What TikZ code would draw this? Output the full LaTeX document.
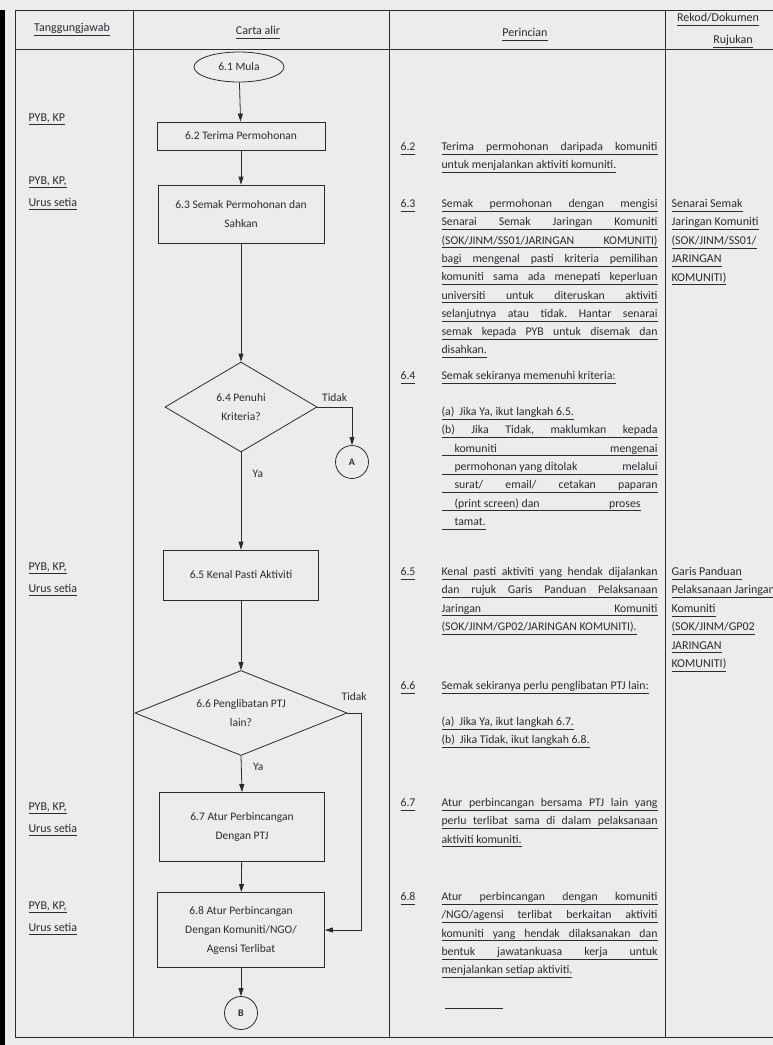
\documentclass[tikz,border=0pt]{standalone}
\usepackage{fontspec}
\setmainfont{Carlito}
\usepackage{xcolor}
\usepackage{tikz}
\usetikzlibrary{positioning}
\usetikzlibrary{arrows.meta, shapes.geometric, calc}
\definecolor{paper}{rgb}{0.92, 0.93, 0.93}
\definecolor{ink}{rgb}{0.17, 0.17, 0.19}
\frenchspacing
\newcommand{\flowfont}{\fontsize{11.5}{19}\selectfont}
\newcommand{\descfont}{\fontsize{11.8}{18.3}\selectfont}
\newcommand{\respfont}{\fontsize{12}{22}\selectfont}
\newcommand{\reffont}{\fontsize{12}{18.4}\selectfont}
\newcommand{\uln}[1]{\underline{\hbox{#1\vphantom{g}}}}
\newcommand{\jln}[2][216pt]{\underline{\hbox to #1{#2\vphantom{g}}}}
\tikzset{
  every node/.style={text=ink},
  process/.style={rectangle, draw=ink, line width=0.8pt, align=center, inner sep=2pt, font=\flowfont},
  terminal/.style={ellipse, draw=ink, line width=0.8pt, minimum width=90, minimum height=30, inner sep=1pt, font=\flowfont},
  decision/.style={diamond, draw=ink, line width=0.8pt, aspect=1.7, inner sep=1pt, align=center, font=\flowfont},
  offpage/.style={circle, draw=ink, line width=0.8pt, minimum size=33, inner sep=0pt, font=\fontsize{10}{12}\selectfont\bfseries},
  flow/.style={draw=ink, line width=0.8pt, -{Triangle[length=8pt, width=5pt]}},
  grid line/.style={draw=ink, line width=0.7pt},
  head/.style={anchor=base, font=\respfont},
  resp/.style={anchor=base west, align=left, font=\respfont},
  desc/.style={anchor=base west, align=left, font=\descfont},
  docref/.style={anchor=base west, align=left, font=\reffont},
  label/.style={font=\flowfont}
}
\begin{document}
\begin{tikzpicture}[x=1pt, y=-1pt]
        \useasboundingbox (0,0) rectangle (773,1045);
        \clip (0,0) rectangle (773,1045);
        \fill[paper] (0,0) rectangle (773,1045);
        \fill[black] (0,10) rectangle (5,1045);

        \draw[grid line] (15,10) -- (773,10);
        \draw[grid line] (15,49) -- (773,49);
        \draw[grid line] (15,1037) -- (773,1037);
        \draw[grid line] (15,10) -- (15,1037);
        \draw[grid line] (133,10) -- (133,1037);
        \draw[grid line] (389,10) -- (389,1037);
        \draw[grid line] (665,10) -- (665,1037);

        \node[head] at (72,31.5) {\uln{Tanggungjawab}};
        \node[head] at (258,34.5) {\uln{Carta alir}};
        \node[head] at (525,36.5) {\uln{Perincian}};
        \node[head] at (718,21.5) {\uln{Rekod/Dokumen}};
        \node[head] at (733,43.5) {\uln{Rujukan}};

        \node[resp] at (25,121) {\uln{PYB, KP}};
        \node[resp] at (25,206) {\uln{PYB, KP,}\\\uln{Urus setia}};
        \node[resp] at (25,592) {\uln{PYB, KP,}\\\uln{Urus setia}};
        \node[resp] at (25,832) {\uln{PYB, KP,}\\\uln{Urus setia}};
        \node[resp] at (25,931) {\uln{PYB, KP,}\\\uln{Urus setia}};

        \node[terminal] (mula) at (239,67) {6.1 Mula};
        \node[process, minimum width=168, minimum height=28] (terima) at (241,136) {6.2 Terima Permohonan};
        \node[process, minimum width=166, minimum height=58] (semak) at (241,214) {6.3 Semak Permohonan dan\\Sahkan};
        \node[decision, minimum width=152, minimum height=90] (penuhi) at (241,407) {6.4 Penuhi\\Kriteria?};
        \node[offpage] (A) at (352,462) {A};
        \node[process, minimum width=155, minimum height=50] (kenal) at (241,575) {6.5 Kenal Pasti Aktiviti};
        \node[decision, minimum width=212, minimum height=85] (ptj) at (241,713) {6.6 Penglibatan PTJ\\lain?};
        \node[process, minimum width=165, minimum height=69] (aturptj) at (242,827) {6.7 Atur Perbincangan\\Dengan PTJ};
        \node[process, minimum width=167, minimum height=75] (aturkom) at (241,930) {6.8 Atur Perbincangan\\Dengan Komuniti/NGO/\\Agensi Terlibat};
        \node[offpage] (B) at (241,1013) {B};
        \coordinate (tidakptj) at (361,713);

        \draw[flow] (mula) -- (terima);
        \draw[flow] (terima) -- (semak);
        \draw[flow] (semak) -- (penuhi);
        \draw[flow] (penuhi.east) -| node[label, pos=0.25, above=2pt] {Tidak} (A.north);
        \draw[flow] (penuhi.south) -- node[label, pos=0.22, right=8pt] {Ya} (kenal.north);
        \draw[flow] (kenal) -- (ptj.north);
        \draw[flow] (ptj.south) -- node[label, pos=0.3, right=8pt] {Ya} (aturptj.north);
        \draw[flow] (ptj.east) -- node[label, midway, above=9pt] {Tidak} (tidakptj) |- (aturkom.east);
        \draw[flow] (aturptj) -- (aturkom);
        \draw[flow] (aturkom) -- (B);

        \node[desc] at (397,150.5) {\uln{6.2}};
        \node[desc] at (438,168.8) {\jln{Terima permohonan daripada komuniti}\\
            \uln{untuk menjalankan aktiviti komuniti.}};
        \node[desc] at (397,207.5) {\uln{6.3}};
        \node[desc] at (438,353.9) {\jln{Semak permohonan dengan mengisi}\\
            \jln{Senarai Semak Jaringan Komuniti}\\
            \jln{(SOK/JINM/SS01/JARINGAN KOMUNITI)}\\
            \jln{bagi mengenal pasti kriteria pemilihan}\\
            \jln{komuniti sama ada menepati keperluan}\\
            \jln{universiti untuk diteruskan aktiviti}\\
            \jln{selanjutnya atau tidak. Hantar senarai}\\
            \jln{semak kepada PYB untuk disemak dan}\\
            \uln{disahkan.}};
        \node[desc] at (397,379.5) {\uln{6.4}};
        \node[desc] at (438,379.5) {\uln{Semak sekiranya memenuhi kriteria:}};
        \node[desc] at (438,525.3) {\uln{(a)\hspace{5pt}Jika Ya, ikut langkah 6.5.}\\
            \jln{(b) Jika Tidak, maklumkan kepada}\\
            \jln{\hspace*{13pt}komuniti\hfill mengenai}\\
            \jln{\hspace*{13pt}permohonan yang ditolak\hfill melalui}\\
            \jln{\hspace*{13pt}surat/ email/ cetakan paparan}\\
            \jln[199pt]{\hspace*{13pt}(print screen) dan\hfill proses}\\
            \uln{\hspace*{13pt}tamat.}};
        \node[desc] at (397,575.5) {\uln{6.5}};
        \node[desc] at (438,630.4) {\jln{Kenal pasti aktiviti yang hendak dijalankan}\\
            \jln{dan rujuk Garis Panduan Pelaksanaan}\\
            \jln{Jaringan\hfill Komuniti}\\
            \uln{(SOK/JINM/GP02/JARINGAN KOMUNITI).}};
        \node[desc] at (397,689.5) {\uln{6.6}};
        \node[desc] at (438,689.5) {\uln{Semak sekiranya perlu penglibatan PTJ lain:}};
        \node[desc] at (438,743.8) {\uln{(a)\hspace{5pt}Jika Ya, ikut langkah 6.7.}\\
            \uln{(b)\hspace{5pt}Jika Tidak, ikut langkah 6.8.}};
        \node[desc] at (397,806.5) {\uln{6.7}};
        \node[desc] at (438,843.1) {\jln{Atur perbincangan bersama PTJ lain yang}\\
            \jln{perlu terlibat sama di dalam pelaksanaan}\\
            \uln{aktiviti komuniti.}};
        \node[desc] at (397,900.5) {\uln{6.8}};
        \node[desc] at (438,973.7) {\jln{Atur perbincangan dengan komuniti}\\
            \jln{/NGO/agensi terlibat berkaitan aktiviti}\\
            \jln{komuniti yang hendak dilaksanakan dan}\\
            \jln{bentuk jawatankuasa kerja untuk}\\
            \uln{menjalankan setiap aktiviti.}};
        \draw[ink, line width=0.6pt] (445,1008) -- (503,1008);

        \node[docref] at (668,281.1) {\uln{Senarai Semak}\\\uln{Jaringan Komuniti}\\
            \uln{(SOK/JINM/SS01/}\\\uln{JARINGAN}\\\uln{KOMUNITI)}};
        \node[docref] at (668,667.5) {\uln{Garis Panduan}\\\uln{Pelaksanaan Jaringan}\\
            \uln{Komuniti}\\\uln{(SOK/JINM/GP02}\\\uln{JARINGAN}\\\uln{KOMUNITI)}};
\end{tikzpicture}
\end{document}
